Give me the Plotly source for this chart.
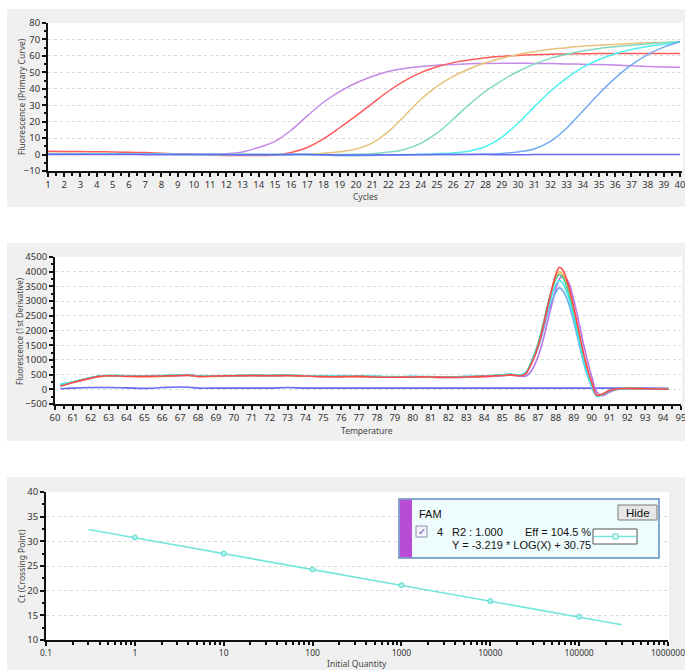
import plotly.graph_objects as go

W, H = 685, 670

# ---------------- Data ----------------
cycles = list(range(1, 41))
amp_purple = [0.3, 0.3, 0.3, 0.2, 0.2, 0.2, 0.1, 0.1, 0.1, 0.0, 0.0, 0.5, 1.6, 4.3, 8.0, 14.8, 23.5, 31.8, 38.3, 43.5,
              47.5, 50.5, 52.3, 53.5, 54.3, 54.8, 55.2, 55.4, 55.5, 55.5, 55.4, 55.3, 55.1, 54.9, 54.7, 54.4, 54.0, 53.6, 53.3, 53.1]
amp_red = [2.0, 1.9, 1.8, 1.7, 1.6, 1.4, 1.2, 0.8, 0.4, 0.2, -0.2, -0.5, -0.6, -0.6, -0.3, 1.3, 4.3, 9.5, 16.3, 23.5,
           31.0, 38.5, 44.8, 49.8, 53.4, 55.9, 57.5, 58.9, 59.7, 60.3, 60.7, 61.0, 61.2, 61.3, 61.4, 61.4, 61.5, 61.5, 61.5, 61.5]
amp_orange = [0.8, 0.8, 0.7, 0.7, 0.6, 0.5, 0.4, 0.3, 0.2, 0.1, 0.0, 0.0, 0.0, 0.0, 0.0, 0.1, 0.3, 0.8, 1.7, 3.4,
              7.0, 13.9, 23.5, 33.5, 41.5, 47.5, 52.2, 55.8, 58.5, 60.9, 62.5, 64.0, 65.0, 66.0, 66.5, 67.0, 67.5, 68.0, 68.2, 68.4]
amp_teal = [0.5, 0.5, 0.4, 0.4, 0.3, 0.3, 0.2, 0.2, 0.1, 0.1, 0.0, 0.0, 0.0, 0.0, 0.0, 0.0, 0.0, 0.0, 0.0, 0.2,
            0.5, 1.5, 3.1, 6.8, 13.0, 21.5, 30.5, 38.5, 45.0, 50.5, 55.0, 58.5, 61.0, 63.0, 64.5, 65.5, 66.5, 67.3, 68.0, 68.8]
amp_cyan = [0.4, 0.4, 0.4, 0.3, 0.3, 0.3, 0.2, 0.2, 0.1, 0.1, 0.0, 0.0, 0.0, 0.0, 0.0, 0.0, 0.0, -0.3, -0.5, -0.5,
            -0.4, -0.2, 0.0, 0.2, 0.5, 1.0, 2.2, 4.9, 10.5, 19.0, 29.0, 38.5, 46.5, 53.0, 57.8, 61.3, 63.9, 65.7, 67.0, 68.6]
amp_blue = [0.3, 0.3, 0.3, 0.2, 0.2, 0.2, 0.1, 0.1, 0.1, 0.0, 0.0, 0.0, 0.0, 0.0, 0.0, 0.0, 0.0, -0.3, -0.6, -0.6,
            -0.5, -0.3, -0.2, 0.0, 0.0, 0.0, 0.1, 0.3, 0.7, 1.6, 3.4, 8.0, 16.0, 26.5, 37.0, 46.5, 54.5, 60.8, 65.3, 68.8]
amp_ntc = [0.1, 0.1, 0.1, 0.0, 0.0, 0.0, 0.0, 0.0, 0.0, 0.0, 0.0, 0.0, -0.1, -0.1, -0.1, 0.0, 0.0, -0.1, -0.2, -0.2,
           -0.2, -0.1, -0.1, -0.1, 0.0, 0.0, 0.0, 0.0, -0.1, -0.1, 0.0, 0.0, 0.0, 0.0, 0.0, 0.0, 0.0, 0.0, 0.0, 0.0]

temps = [60.3, 61, 62, 62.5, 63, 64, 65, 66, 67, 67.5, 68, 69, 70, 71, 72, 73, 74, 75, 76, 77, 78, 79, 80, 81, 82,
         83, 84, 85, 85.5, 86, 86.3, 86.6, 87, 87.3, 87.6, 88, 88.2, 88.4, 88.7, 89, 89.3, 89.6, 90, 90.3, 90.6, 91,
         91.5, 92, 93, 94.3]
melt_red = [100, 230, 380, 440, 460, 440, 440, 450, 470, 480, 440, 450, 460, 470, 460, 470, 450, 430, 430, 440, 420,
            410, 420, 420, 410, 420, 440, 470, 490, 460, 520, 820, 1450, 2150, 2950, 3900, 4150, 4050, 3550, 2800,
            1950, 1100, 250, -200, -160, -40, 20, 30, 20, 0]
melt_orange = [130, 240, 390, 440, 450, 450, 430, 440, 470, 470, 440, 440, 450, 460, 460, 460, 450, 440, 430, 430,
               430, 420, 420, 410, 400, 420, 440, 480, 500, 470, 540, 860, 1500, 2200, 3000, 3800, 4000, 3900, 3400,
               2650, 1800, 1000, 200, -220, -170, -50, 10, 30, 20, 10]
melt_green = [150, 250, 390, 450, 470, 460, 450, 460, 480, 490, 450, 460, 460, 480, 470, 480, 460, 450, 440, 450,
              430, 420, 430, 420, 420, 430, 450, 490, 510, 480, 560, 900, 1550, 2250, 3000, 3750, 3900, 3800, 3300,
              2550, 1700, 900, 150, -230, -180, -50, 10, 30, 20, 10]
melt_cyan = [170, 260, 400, 460, 470, 460, 460, 470, 490, 500, 450, 460, 470, 480, 470, 480, 460, 450, 450, 450,
             440, 430, 430, 430, 420, 430, 450, 490, 510, 490, 550, 870, 1500, 2150, 2850, 3550, 3700, 3600, 3150,
             2450, 1650, 850, 120, -240, -180, -50, 10, 30, 20, 10]
melt_blue = [150, 250, 390, 450, 460, 460, 450, 460, 480, 490, 450, 460, 460, 470, 470, 470, 460, 440, 440, 440,
             430, 420, 430, 420, 420, 430, 450, 480, 500, 480, 540, 840, 1400, 2000, 2700, 3300, 3450, 3350, 2950,
             2300, 1550, 800, 100, -230, -170, -50, 10, 30, 20, 10]
melt_purple = [120, 240, 380, 440, 460, 450, 440, 450, 460, 470, 440, 450, 450, 460, 460, 470, 450, 430, 430, 440,
               420, 410, 420, 410, 400, 410, 430, 460, 480, 450, 440, 600, 1100, 1700, 2450, 3400, 3750, 3850, 3650,
               3050, 2250, 1400, 450, -100, -220, -100, 0, 30, 20, 10]
melt_ntc = [20, 40, 60, 60, 60, 50, 30, 60, 80, 70, 40, 40, 40, 40, 40, 60, 40, 40, 40, 40, 40, 40, 40, 40, 40,
            40, 40, 40, 40, 40, 40, 40, 40, 40, 40, 40, 40, 40, 40, 40, 40, 40, 40, 40, 40, 40, 40, 40, 40, 30]

std_qty = [1, 10, 100, 1000, 10000, 100000]
std_ct = [30.8, 27.5, 24.3, 21.1, 17.9, 14.7]
fit_qty = [0.3, 300000]
fit_ct = [32.4, 13.1]

log_ticks = [0.1, 1, 10, 100, 1000, 10000, 100000, 1000000]
log_labels = ["0.1", "1", "10", "100", "1000", "10000", "100000", "1000000"]

# ---------------- Styles ----------------
C_PURPLE = "#c48ae8"
C_RED = "#ff5a5a"
C_ORANGE = "#e6c27a"
C_TEAL = "#7fd9c4"
C_CYAN = "#4ff0f0"
C_BLUE = "#72aaf0"
C_NTC = "#6a6af0"
C_STD = "#74e6dc"


def px(x):
    return x / W


def py(y):
    return 1 - y / H


fig = go.Figure()

amp = [(amp_purple, C_PURPLE), (amp_red, C_RED), (amp_orange, C_ORANGE), (amp_teal, C_TEAL),
       (amp_cyan, C_CYAN), (amp_blue, C_BLUE), (amp_ntc, C_NTC)]
for vals, col in amp:
    fig.add_trace(go.Scatter(x=cycles, y=vals, mode="lines", line=dict(color=col, width=1.5, shape="spline"),
                             xaxis="x", yaxis="y", showlegend=False, hoverinfo="skip"))

melt = [(melt_ntc, C_NTC), (melt_purple, "#b872ea"), (melt_blue, C_BLUE), (melt_orange, "#f0b040"),
        (melt_green, "#50c890"), (melt_cyan, "#3ee6ea"), (melt_red, "#ff4848")]
for vals, col in melt:
    fig.add_trace(go.Scatter(x=temps, y=vals, mode="lines", line=dict(color=col, width=1.6, shape="spline"),
                             xaxis="x2", yaxis="y2", showlegend=False, hoverinfo="skip"))

fig.add_trace(go.Scatter(x=fit_qty, y=fit_ct, mode="lines", line=dict(color=C_STD, width=1.6),
                         xaxis="x3", yaxis="y3", showlegend=False, hoverinfo="skip"))
fig.add_trace(go.Scatter(x=std_qty, y=std_ct, mode="markers",
                         marker=dict(color="#a8f4ee", size=5, line=dict(color="#5cd6cc", width=1)),
                         xaxis="x3", yaxis="y3", showlegend=False, hoverinfo="skip"))

tickfont = dict(family="Noto Sans, DejaVu Sans, sans-serif", size=9.5, color="#333333")
common_x = dict(showline=True, linecolor="#111111", linewidth=2, ticks="outside", ticklen=4, tickwidth=1.5,
                tickcolor="#111111", showgrid=False, zeroline=False, tickfont=tickfont, fixedrange=True,
                automargin=False, ticklabeloverflow="allow")
common_y = dict(showline=True, linecolor="#111111", linewidth=2, ticks="outside", ticklen=4, tickwidth=1.5,
                tickcolor="#111111", showgrid=True, gridcolor="#dadada", griddash="dot", gridwidth=1,
                zeroline=False, tickfont=tickfont, fixedrange=True, automargin=False,
                ticklabeloverflow="allow")
minor_style = dict(ticklen=2.5, tickwidth=1.5, tickcolor="#111111", showgrid=False)

# Panel geometry (pixels)
P1 = dict(x0=48, x1=682, y0=23, y1=171)
P2 = dict(x0=55, x1=681, y0=257, y1=404)
P3 = dict(x0=46, x1=668, y0=492, y1=640)

fig.update_layout(
    width=W, height=H, margin=dict(l=0, r=0, t=0, b=0, pad=0, autoexpand=False),
    paper_bgcolor="white", plot_bgcolor="white",
    xaxis=dict(common_x, domain=[px(P1["x0"]), px(P1["x1"])], range=[1, 40.12], tick0=1, dtick=1,
               anchor="y", minor=dict(minor_style, dtick=0.5)),
    yaxis=dict(common_y, domain=[py(P1["y1"]), py(P1["y0"])], range=[-10, 80], dtick=10, anchor="x",
               minor=dict(minor_style, dtick=5)),
    xaxis2=dict(common_x, domain=[px(P2["x0"]), px(P2["x1"])], range=[60, 95], tick0=60, dtick=1,
                anchor="y2", minor=dict(minor_style, dtick=0.5)),
    yaxis2=dict(common_y, domain=[py(P2["y1"]), py(P2["y0"])], range=[-500, 4500], dtick=500, anchor="x2",
                minor=dict(minor_style, dtick=250)),
    xaxis3=dict(common_x, type="log", domain=[px(P3["x0"]), px(P3["x1"])], range=[-1, 6],
                tickvals=log_ticks, ticktext=log_labels, anchor="y3",
                tickfont=dict(tickfont, size=8.5),
                minor=dict(minor_style, dtick="D1")),
    yaxis3=dict(common_y, domain=[py(P3["y1"]), py(P3["y0"])], range=[10, 40], dtick=5, anchor="x3",
                minor=dict(minor_style, dtick=2.5)),
)

shapes = []
# grey panel backgrounds + white plot areas
for (gy0, gy1), P in zip([(9, 207), (243, 441), (477, 670)], [P1, P2, P3]):
    shapes.append(dict(type="rect", xref="paper", yref="paper", x0=px(7), x1=px(685), y0=py(gy1), y1=py(gy0),
                       fillcolor="#f0f0f0", line=dict(width=0), layer="below"))
    shapes.append(dict(type="rect", xref="paper", yref="paper", x0=px(P["x0"]), x1=px(P["x1"] + 1),
                       y0=py(P["y1"]), y1=py(P["y0"]), fillcolor="white", line=dict(width=0), layer="below"))

# legend box in standard curve panel
shapes += [
    dict(type="rect", xref="paper", yref="paper", x0=px(399), x1=px(659), y0=py(558), y1=py(499),
         fillcolor="#effcfd", line=dict(color="#5f8cc0", width=1.5), layer="above"),
    dict(type="rect", xref="paper", yref="paper", x0=px(399.8), x1=px(412), y0=py(557.3), y1=py(499.7),
         fillcolor="#b84cd4", line=dict(width=0), layer="above"),
    dict(type="rect", xref="paper", yref="paper", x0=px(618), x1=px(657), y0=py(520), y1=py(505),
         fillcolor="#e6e6e6", line=dict(color="#7c7c7c", width=1), layer="above"),
    dict(type="rect", xref="paper", yref="paper", x0=px(416), x1=px(427), y0=py(537), y1=py(526),
         fillcolor="#f4f2fb", line=dict(color="#8a90b0", width=1), layer="above"),
    dict(type="rect", xref="paper", yref="paper", x0=px(593), x1=px(637), y0=py(544), y1=py(529),
         fillcolor="white", line=dict(color="#555555", width=1), layer="above"),
    dict(type="line", xref="paper", yref="paper", x0=px(594), x1=px(636), y0=py(536.5), y1=py(536.5),
         line=dict(color=C_STD, width=1.3), layer="above"),
    dict(type="rect", xref="paper", yref="paper", x0=px(613), x1=px(618), y0=py(539), y1=py(534),
         fillcolor="#dffaf7", line=dict(color="#5cd6cc", width=1), layer="above"),
]
fig.update_layout(shapes=shapes)

title_font = dict(family="Noto Sans, DejaVu Sans, sans-serif", size=8.5, color="#444444")
ann = []


def add_text(text, x, y, font, xanchor="center", yanchor="middle", angle=0):
    ann.append(dict(text=text, x=px(x), y=py(y), xref="paper", yref="paper", showarrow=False,
                    xanchor=xanchor, yanchor=yanchor, textangle=angle, font=font))


add_text("Fluorescence (Primary Curve)", 21, 97, title_font, angle=-90)
add_text("Cycles", 365, 196, title_font)
add_text("Fluorescence (1st Derivative)", 20, 331, dict(title_font, size=8), angle=-90)
add_text("Temperature", 367, 430, title_font)
add_text("Ct (Crossing Point)", 21, 566, title_font, angle=-90)
add_text("Initial Quantity", 357, 663, title_font)

lf = dict(family="Liberation Sans, Arial, sans-serif", size=11, color="#111111")
add_text("FAM", 417, 514, lf, xanchor="left")
add_text("Hide", 637.5, 512.5, dict(lf, size=11.5), xanchor="center")
add_text("✓", 421.5, 531.5, dict(family="DejaVu Sans", size=10, color="#5a5aa8"))
add_text("4", 440, 532, lf, xanchor="center")
add_text("R2 : 1.000", 450, 532, lf, xanchor="left")
add_text("Eff = 104.5 %", 523, 532, lf, xanchor="left")
add_text("Y = -3.219 * LOG(X) + 30.75", 450, 545, lf, xanchor="left")
fig.update_layout(annotations=ann)

fig.write_html("out.html", config={"displayModeBar": False},
               post_script="document.body.style.margin='0';document.body.style.overflow='hidden';")
